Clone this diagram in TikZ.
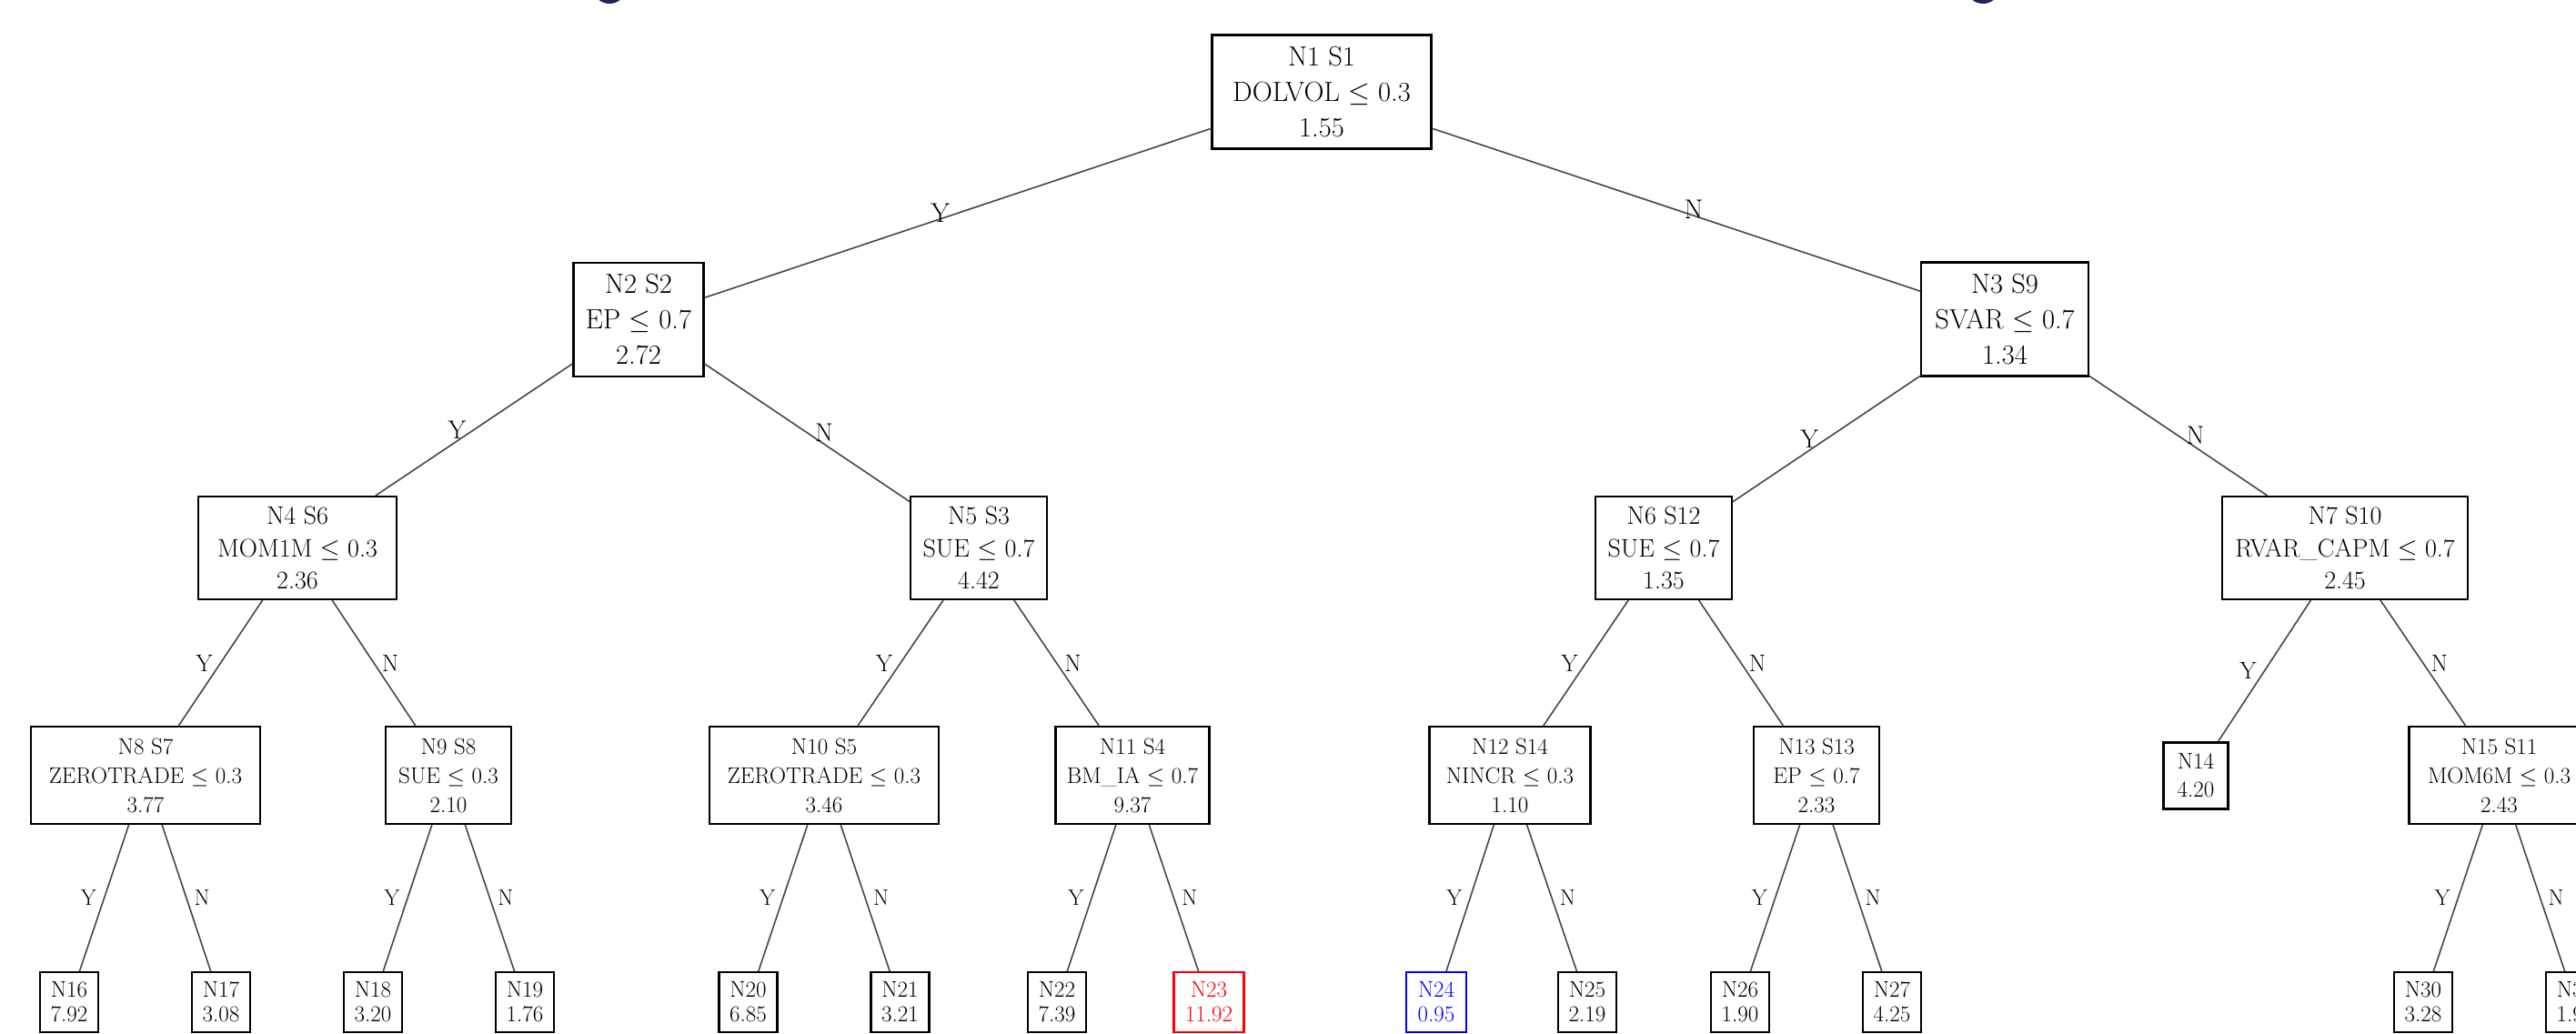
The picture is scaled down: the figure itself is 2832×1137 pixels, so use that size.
\documentclass[tikz,border=0pt]{standalone}
\usepackage{fix-cm}
\definecolor{titleblue}{RGB}{28,40,84}
\definecolor{leafred}{RGB}{255,0,0}
\definecolor{leafblue}{RGB}{0,0,255}
\tikzset{
  box/.style={draw=black, line width=2.1pt, fill=white, align=center, inner sep=0pt},
  lvA/.style={box, font=\fontsize{30.5}{39}\selectfont, minimum height=125pt},
  lvB/.style={box, font=\fontsize{28}{35.5}\selectfont, minimum height=113pt},
  lvC/.style={box, font=\fontsize{25}{32}\selectfont, minimum height=107pt},
  leaf/.style={box, font=\fontsize{25}{27}\selectfont, minimum width=64pt, minimum height=66pt},
  conn/.style={draw=black!72, line width=1.6pt},
  ylab/.style={midway, left, inner sep=8pt},
  nlab/.style={midway, right, inner sep=8pt},
  fA/.style={font=\fontsize{30}{32}\selectfont},
  fB/.style={font=\fontsize{28.5}{30}\selectfont},
  fC/.style={font=\fontsize{26.5}{28}\selectfont},
  fD/.style={font=\fontsize{24.5}{26}\selectfont},
}
\begin{document}
\begin{tikzpicture}[x=1pt,y=-1pt]
\useasboundingbox (0,0) rectangle (2832,1137);
\clip (0,0) rectangle (2832,1137);
\fill[white] (0,0) rectangle (2832,1137);
% cut-off title descenders
\fill[titleblue] (670,-9) ellipse [x radius=16, y radius=13];
\fill[titleblue] (2180,-9) ellipse [x radius=16, y radius=13];

% level 0
\node[lvA, minimum width=241pt] (n1) at (1453,101) {N1 S1\\DOLVOL $\leq$ 0.3\\1.55};
% level 1
\node[lvA, minimum width=143pt] (n2) at (702,351.5) {N2 S2\\EP $\leq$ 0.7\\2.72};
\node[lvA, minimum width=184pt] (n3) at (2204,351) {N3 S9\\SVAR $\leq$ 0.7\\1.34};
% level 2
\node[lvB, minimum width=218pt] (n4) at (327,602.5) {N4 S6\\MOM1M $\leq$ 0.3\\2.36};
\node[lvB, minimum width=150pt] (n5) at (1076,602.5) {N5 S3\\SUE $\leq$ 0.7\\4.42};
\node[lvB, minimum width=150pt] (n6) at (1829,602.5) {N6 S12\\SUE $\leq$ 0.7\\1.35};
\node[lvB, minimum width=270pt] (n7) at (2578,602.5) {N7 S10\\RVAR\_CAPM $\leq$ 0.7\\2.45};
% level 3
\node[lvC, minimum width=252pt] (n8) at (160,852.5) {N8 S7\\ZEROTRADE $\leq$ 0.3\\3.77};
\node[lvC, minimum width=138pt] (n9) at (493,852.5) {N9 S8\\SUE $\leq$ 0.3\\2.10};
\node[lvC, minimum width=252pt] (n10) at (906,852.5) {N10 S5\\ZEROTRADE $\leq$ 0.3\\3.46};
\node[lvC, minimum width=169pt] (n11) at (1245,852.5) {N11 S4\\BM\_IA $\leq$ 0.7\\9.37};
\node[lvC, minimum width=177pt] (n12) at (1660,852.5) {N12 S14\\NINCR $\leq$ 0.3\\1.10};
\node[lvC, minimum width=138pt] (n13) at (1997,852.5) {N13 S13\\EP $\leq$ 0.7\\2.33};
\node[box, font=\fontsize{25}{31}\selectfont, minimum width=71pt, minimum height=73pt] (n14) at (2414,853) {N14\\4.20};
\node[lvC, minimum width=198pt] (n15) at (2747.5,852.5) {N15 S11\\MOM6M $\leq$ 0.3\\2.43};
% leaves
\node[leaf] (n16) at (76,1102) {N16\\7.92};
\node[leaf] (n17) at (243,1102) {N17\\3.08};
\node[leaf] (n18) at (410,1102) {N18\\3.20};
\node[leaf] (n19) at (577,1102) {N19\\1.76};
\node[leaf] (n20) at (822.5,1102) {N20\\6.85};
\node[leaf] (n21) at (989.5,1102) {N21\\3.21};
\node[leaf] (n22) at (1162,1102) {N22\\7.39};
\node[leaf, draw=leafred, text=leafred, minimum width=77pt] (n23) at (1329,1102) {N23\\11.92};
\node[leaf, draw=leafblue, text=leafblue, minimum width=66pt] (n24) at (1579,1102) {N24\\0.95};
\node[leaf] (n25) at (1745,1102) {N25\\2.19};
\node[leaf] (n26) at (1913,1102) {N26\\1.90};
\node[leaf] (n27) at (2080,1102) {N27\\4.25};
\node[leaf] (n30) at (2664,1102) {N30\\3.28};
\node[leaf] (n31) at (2831,1102) {N31\\1.96};

% connectors
\draw[conn] (n1) -- node[ylab,fA]{Y} (n2);
\draw[conn] (n1) -- node[nlab,fA]{N} (n3);
\draw[conn] (n2) -- node[ylab,fB]{Y} (n4);
\draw[conn] (n2) -- node[nlab,fB]{N} (n5);
\draw[conn] (n3) -- node[ylab,fB]{Y} (n6);
\draw[conn] (n3) -- node[nlab,fB]{N} (n7);
\draw[conn] (n4) -- node[ylab,fC]{Y} (n8);
\draw[conn] (n4) -- node[nlab,fC]{N} (n9);
\draw[conn] (n5) -- node[ylab,fC]{Y} (n10);
\draw[conn] (n5) -- node[nlab,fC]{N} (n11);
\draw[conn] (n6) -- node[ylab,fC]{Y} (n12);
\draw[conn] (n6) -- node[nlab,fC]{N} (n13);
\draw[conn] (n7) -- node[ylab,fC]{Y} (n14);
\draw[conn] (n7) -- node[nlab,fC]{N} (n15);
\draw[conn] (n8) -- node[ylab,fD]{Y} (n16);
\draw[conn] (n8) -- node[nlab,fD]{N} (n17);
\draw[conn] (n9) -- node[ylab,fD]{Y} (n18);
\draw[conn] (n9) -- node[nlab,fD]{N} (n19);
\draw[conn] (n10) -- node[ylab,fD]{Y} (n20);
\draw[conn] (n10) -- node[nlab,fD]{N} (n21);
\draw[conn] (n11) -- node[ylab,fD]{Y} (n22);
\draw[conn] (n11) -- node[nlab,fD]{N} (n23);
\draw[conn] (n12) -- node[ylab,fD]{Y} (n24);
\draw[conn] (n12) -- node[nlab,fD]{N} (n25);
\draw[conn] (n13) -- node[ylab,fD]{Y} (n26);
\draw[conn] (n13) -- node[nlab,fD]{N} (n27);
\draw[conn] (n15) -- node[ylab,fD]{Y} (n30);
\draw[conn] (n15) -- node[nlab,fD]{N} (n31);
\end{tikzpicture}
\end{document}
